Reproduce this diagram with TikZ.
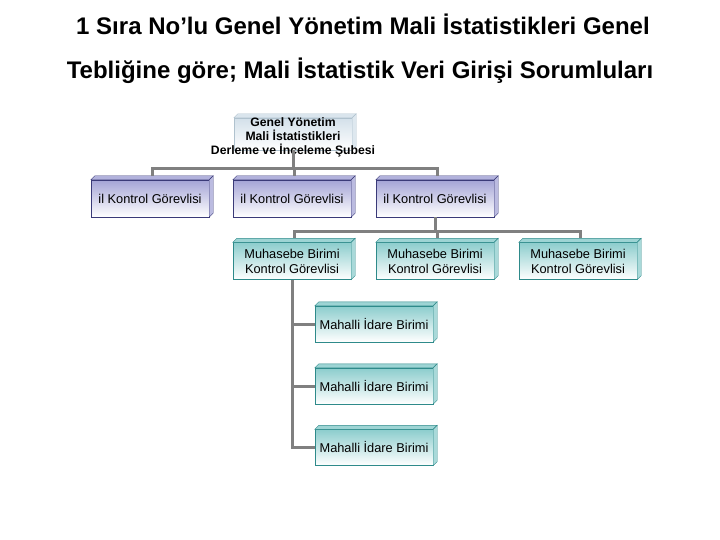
\documentclass[tikz,border=0pt]{standalone}
\usepackage{fontspec}
\setmainfont{Liberation Sans}
\definecolor{orgLine}{HTML}{808080}
\definecolor{orgLav}{HTML}{A4A4D6}
\definecolor{orgLavEdge}{HTML}{3A3A78}
\definecolor{orgTeal}{HTML}{8CCDCD}
\definecolor{orgTealEdge}{HTML}{2E8A8A}
\definecolor{orgHead}{HTML}{D3E0EA}
\definecolor{orgHeadEdge}{HTML}{B0C2CE}

\begin{document}
\begin{tikzpicture}[x=1pt, y=-1pt,
  unit/.style={draw, inner sep=0pt, minimum width=118pt, minimum height=37pt,
    align=center, font=\fontsize{12.8}{15}\selectfont},
  kunit/.style={unit, draw=orgLavEdge, top color=orgLav, bottom color=white},
  munit/.style={unit, draw=orgTealEdge, top color=orgTeal, bottom color=white},
  hunit/.style={unit, minimum height=32pt, draw=orgHeadEdge, top color=orgHead, bottom color=white},
  link/.style={draw=orgLine, line width=3pt}]
\useasboundingbox (0,0) rectangle (720,540);
% title
\node (title1) at (363,24) {\fontsize{24}{28}\selectfont\bfseries 1 Sıra No’lu Genel Yönetim Mali İstatistikleri Genel};
\node (title2) at (360,71) {\fontsize{24}{28}\selectfont\bfseries Tebliğine göre; Mali İstatistik Veri Girişi Sorumluları};
% nodes
\node[hunit] (head) at (293,134) {};
\node[kunit] (k1) at (150,198.5) {il Kontrol Görevlisi};
\node[kunit] (k2) at (292,198.5) {il Kontrol Görevlisi};
\node[kunit] (k3) at (435,198.5) {il Kontrol Görevlisi};
\node[munit] (m1) at (292,261) {Muhasebe Birimi\\Kontrol Görevlisi};
\node[munit] (m2) at (435,261) {Muhasebe Birimi\\Kontrol Görevlisi};
\node[munit] (m3) at (578,261) {Muhasebe Birimi\\Kontrol Görevlisi};
\node[munit, minimum height=36pt] (a1) at (374,324) {Mahalli İdare Birimi};
\node[munit, minimum height=36pt] (a2) at (374,386) {Mahalli İdare Birimi};
\node[munit, minimum height=36pt] (a3) at (374,447.5) {Mahalli İdare Birimi};
% box depth
\foreach \n/\c/\e in {head/orgHead/orgHeadEdge, k1/orgLav/orgLavEdge, k2/orgLav/orgLavEdge,
  k3/orgLav/orgLavEdge, m1/orgTeal/orgTealEdge, m2/orgTeal/orgTealEdge, m3/orgTeal/orgTealEdge,
  a1/orgTeal/orgTealEdge, a2/orgTeal/orgTealEdge, a3/orgTeal/orgTealEdge} {
  \filldraw[fill=\c!85!white, draw=\e] (\n.north west) -- ++(4,-4)
    -- ([shift={(4,-4)}]\n.north east) -- (\n.north east) -- cycle;
  \filldraw[fill=\c!75!white, draw=\e] (\n.north east) -- ++(4,-4)
    -- ([shift={(4,-4)}]\n.south east) -- (\n.south east) -- cycle;
}
\node[align=center, font=\fontsize{12.2}{14}\selectfont\bfseries] (headtext) at (293,137)
  {Genel Yönetim\\Mali İstatistikleri\\Derleme ve İnceleme Şubesi};
% connectors
\draw[link] (head.south) -- ++(0,18) -| ([shift={(2,-4)}]k1.north);
\draw[link] (head.south) -- ++(0,18) -| ([shift={(2,-4)}]k2.north);
\draw[link] (head.south) -- ++(0,18) -| ([shift={(2,-4)}]k3.north);
\draw[link] (k3.south) -- ++(0,14) -| ([shift={(2,-4)}]m1.north);
\draw[link] (k3.south) -- ++(0,14) -| ([shift={(2,-4)}]m2.north);
\draw[link] (k3.south) -- ++(0,14) -| ([shift={(2,-4)}]m3.north);
\draw[link] (m1.south) |- (a1.west);
\draw[link] (m1.south) |- (a2.west);
\draw[link] (m1.south) |- (a3.west);
\end{tikzpicture}
\end{document}
